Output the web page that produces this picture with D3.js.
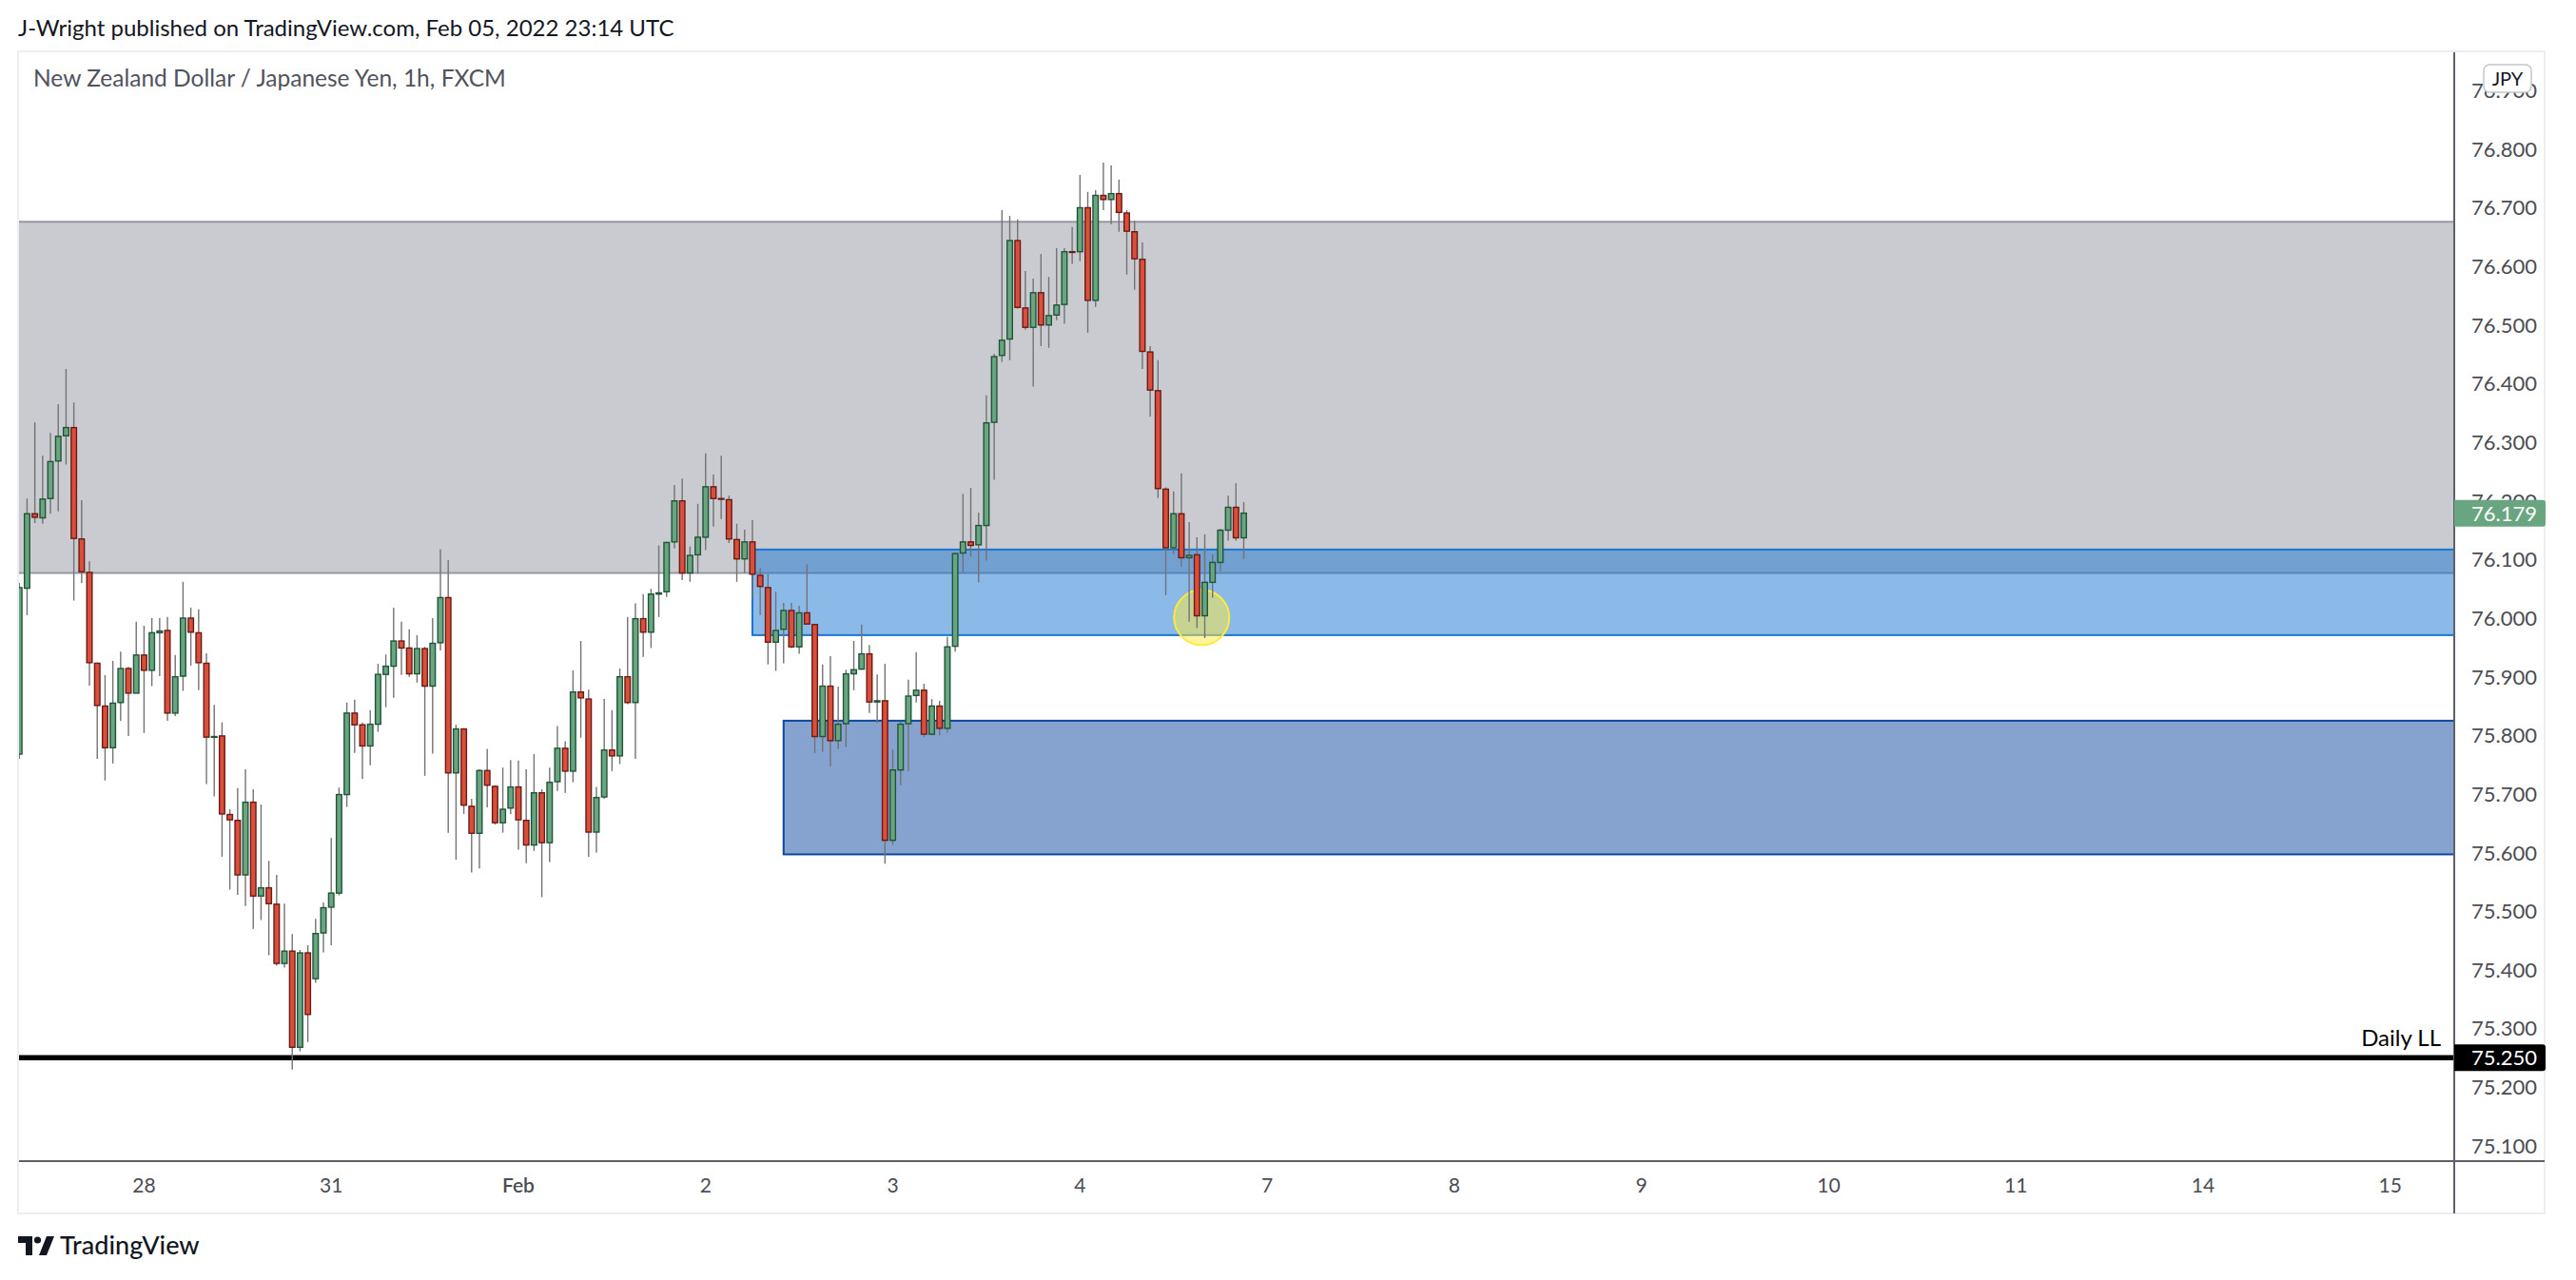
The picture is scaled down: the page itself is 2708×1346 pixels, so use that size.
<!DOCTYPE html>
<html>
<head>
<meta charset="utf-8">
<script src="https://cdn.jsdelivr.net/npm/d3@7"></script>
<style>
  body { margin: 0; background: #ffffff; }
  svg { display: block; }
</style>
</head>
<body>
<script>
// NZDJPY 1h candles, bar 0 = first (partly hidden) bar at the left edge
const opens = [
  75.768, 76.051, 76.178, 76.171, 76.204, 76.268, 76.311, 76.325, 76.135, 76.078,
  75.923, 75.850, 75.779, 75.856, 75.914, 75.872, 75.937, 75.911, 75.975, 75.979,
  75.838, 75.901, 76.000, 75.975, 75.923, 75.797, 75.799, 75.665, 75.655, 75.562,
  75.686, 75.526, 75.540, 75.512, 75.411, 75.432, 75.268, 75.429, 75.385, 75.463,
  75.507, 75.531, 75.699, 75.838, 75.818, 75.782, 75.819, 75.904, 75.918, 75.961,
  75.949, 75.905, 75.948, 75.884, 75.958, 76.035, 75.736, 75.811, 75.679, 75.633,
  75.740, 75.713, 75.651, 75.676, 75.712, 75.655, 75.613, 75.702, 75.617, 75.721,
  75.778, 75.739, 75.874, 75.862, 75.635, 75.695, 75.775, 75.765, 75.900, 75.856,
  75.999, 75.976, 76.041, 76.045, 76.130, 76.200, 76.077, 76.108, 76.138, 76.224,
  76.204, 76.202, 76.134, 76.101, 76.130, 76.073, 76.052, 75.959, 75.981, 76.013,
  75.951, 76.009, 75.989, 75.798, 75.884, 75.791, 75.820, 75.905, 75.913, 75.939,
  75.857, 75.859, 75.621, 75.741, 75.820, 75.868, 75.877, 75.802, 75.850, 75.812,
  75.952, 76.111, 76.130, 76.125, 76.158, 76.334, 76.448, 76.476, 76.644, 76.529,
  76.496, 76.555, 76.500, 76.517, 76.535, 76.625, 76.625, 76.700, 76.542, 76.721,
  76.714, 76.724, 76.691, 76.659, 76.612, 76.454, 76.388, 76.220, 76.120, 76.178,
  76.103, 76.108, 76.004, 76.061, 76.095, 76.150, 76.189, 76.137
]
const highs = [
  76.060, 76.204, 76.334, 76.277, 76.316, 76.365, 76.425, 76.368, 76.201, 76.097,
  75.924, 75.903, 75.927, 75.943, 75.917, 75.994, 75.987, 76.000, 76.000, 76.002,
  75.937, 76.062, 76.018, 76.015, 75.940, 75.852, 75.822, 75.674, 75.710, 75.742,
  75.708, 75.682, 75.586, 75.562, 75.513, 75.461, 75.434, 75.442, 75.487, 75.515,
  75.625, 75.711, 75.856, 75.861, 75.822, 75.843, 75.922, 75.938, 76.018, 75.994,
  75.981, 75.971, 75.951, 76.000, 76.117, 76.099, 75.818, 75.812, 75.692, 75.742,
  75.777, 75.715, 75.745, 75.758, 75.757, 75.742, 75.768, 75.708, 75.745, 75.816,
  75.790, 75.911, 75.961, 75.878, 75.712, 75.862, 75.843, 75.914, 76.002, 76.025,
  76.041, 76.050, 76.124, 76.130, 76.227, 76.238, 76.122, 76.195, 76.281, 76.245,
  76.277, 76.209, 76.161, 76.151, 76.167, 76.086, 76.075, 76.045, 76.026, 76.026,
  76.021, 76.092, 75.990, 75.921, 75.935, 75.883, 75.912, 75.961, 75.989, 75.954,
  75.904, 75.922, 75.776, 75.823, 75.895, 75.942, 75.888, 75.862, 75.859, 75.968,
  76.112, 76.212, 76.222, 76.180, 76.380, 76.451, 76.696, 76.686, 76.680, 76.592,
  76.579, 76.621, 76.582, 76.631, 76.631, 76.667, 76.756, 76.727, 76.730, 76.777,
  76.772, 76.748, 76.696, 76.678, 76.641, 76.464, 76.440, 76.223, 76.216, 76.247,
  76.164, 76.138, 76.143, 76.109, 76.152, 76.209, 76.230, 76.198
]
const lows = [
  75.760, 76.005, 76.162, 76.161, 76.178, 76.182, 76.262, 76.030, 76.060, 75.885,
  75.760, 75.723, 75.752, 75.825, 75.799, 75.872, 75.804, 75.884, 75.901, 75.825,
  75.833, 75.876, 75.919, 75.877, 75.717, 75.696, 75.593, 75.537, 75.528, 75.509,
  75.470, 75.485, 75.425, 75.407, 75.404, 75.230, 75.261, 75.277, 75.378, 75.430,
  75.442, 75.527, 75.678, 75.770, 75.726, 75.749, 75.806, 75.848, 75.864, 75.903,
  75.900, 75.890, 75.731, 75.769, 75.945, 75.634, 75.588, 75.666, 75.566, 75.573,
  75.677, 75.648, 75.634, 75.666, 75.605, 75.582, 75.603, 75.524, 75.584, 75.705,
  75.702, 75.720, 75.796, 75.593, 75.600, 75.692, 75.739, 75.751, 75.853, 75.760,
  75.934, 75.949, 76.002, 76.036, 76.119, 76.065, 76.062, 76.076, 76.116, 76.156,
  76.169, 76.128, 76.062, 76.077, 76.035, 76.005, 75.921, 75.910, 75.923, 75.949,
  75.939, 75.989, 75.770, 75.772, 75.747, 75.777, 75.780, 75.877, 75.912, 75.838,
  75.821, 75.581, 75.613, 75.715, 75.739, 75.856, 75.797, 75.800, 75.800, 75.805,
  75.943, 76.078, 76.105, 76.061, 76.098, 76.236, 76.437, 76.440, 76.528, 76.492,
  76.395, 76.464, 76.461, 76.508, 76.502, 76.604, 76.609, 76.487, 76.531, 76.696,
  76.672, 76.659, 76.586, 76.560, 76.425, 76.344, 76.205, 76.039, 76.109, 76.088,
  75.994, 75.983, 75.966, 76.035, 76.080, 76.132, 76.132, 76.101
]
const closes = [
  76.052, 76.178, 76.172, 76.203, 76.267, 76.310, 76.325, 76.136, 76.079, 75.924,
  75.851, 75.779, 75.855, 75.914, 75.872, 75.937, 75.911, 75.975, 75.978, 75.838,
  75.900, 76.000, 75.976, 75.924, 75.797, 75.798, 75.666, 75.656, 75.562, 75.686,
  75.526, 75.540, 75.513, 75.411, 75.432, 75.268, 75.429, 75.324, 75.462, 75.506,
  75.531, 75.699, 75.838, 75.818, 75.782, 75.819, 75.904, 75.918, 75.961, 75.949,
  75.905, 75.948, 75.884, 75.957, 76.035, 75.736, 75.811, 75.681, 75.633, 75.740,
  75.715, 75.651, 75.674, 75.712, 75.656, 75.613, 75.702, 75.617, 75.720, 75.778,
  75.739, 75.874, 75.864, 75.635, 75.694, 75.775, 75.765, 75.900, 75.856, 75.999,
  75.976, 76.041, 76.043, 76.129, 76.200, 76.077, 76.107, 76.138, 76.224, 76.204,
  76.203, 76.135, 76.101, 76.130, 76.075, 76.054, 75.959, 75.979, 76.013, 75.951,
  76.009, 75.990, 75.798, 75.884, 75.791, 75.819, 75.905, 75.912, 75.939, 75.857,
  75.859, 75.621, 75.741, 75.819, 75.867, 75.877, 75.802, 75.850, 75.812, 75.951,
  76.110, 76.130, 76.124, 76.158, 76.333, 76.446, 76.474, 76.644, 76.530, 76.496,
  76.555, 76.500, 76.516, 76.534, 76.625, 76.624, 76.700, 76.542, 76.721, 76.714,
  76.724, 76.692, 76.660, 76.613, 76.455, 76.389, 76.221, 76.120, 76.178, 76.103,
  76.107, 76.004, 76.061, 76.095, 76.150, 76.189, 76.137, 76.179
]

// time axis
const dayLabels = ["28", "31", "Feb", "2", "3", "4", "7", "8", "9", "10", "11", "14", "15"]
const dayBars = [16, 40, 64, 88, 112, 136, 160, 184, 208, 232, 256, 280, 304]

// price axis
const priceTicks = [75.1, 75.2, 75.3, 75.4, 75.5, 75.6, 75.7, 75.8, 75.9,
                    76.0, 76.1, 76.2, 76.3, 76.4, 76.5, 76.6, 76.7, 76.8, 76.9]
const lastPrice = 76.179

// drawings (price levels and the bar they start from, -1 = off the left edge)
const zoneTops = [76.676, 76.117, 75.825]
const zoneBottoms = [76.077, 75.971, 75.597]
const zoneStartBars = [-1, 94, 98]
const dailyLow = 75.250
const markBar = 151.6
const markPrice = 76.001

// ---- layout ----
const W = 2708, H = 1346
const plotLeft = 20, plotRight = 2580, plotTop = 55, plotBottom = 1221
const frameRight = 2675, frameBottom = 1276
const font = "'Trebuchet MS', Lato, 'Noto Sans', sans-serif"

const svg = d3.select("body").append("svg")
    .attr("width", W)
    .attr("height", H)
    .style("font-family", font)

const x = d3.scaleLinear().domain([-0.03, 312.2]).range([plotLeft, plotRight])
const y = d3.scaleLinear().domain([75.0738, 76.9651]).range([plotBottom, plotTop])

svg.append("defs").append("clipPath").attr("id", "plotClip")
    .append("rect")
    .attr("x", plotLeft).attr("y", plotTop)
    .attr("width", plotRight - plotLeft).attr("height", plotBottom - plotTop)

// header
svg.append("text")
    .attr("x", 19).attr("y", 38)
    .attr("font-size", 24)
    .attr("fill", "#131722")
    .text("J-Wright published on TradingView.com, Feb 05, 2022 23:14 UTC")

// chart frame
svg.append("rect")
    .attr("x", 19).attr("y", 54)
    .attr("width", frameRight - 19).attr("height", frameBottom - 54)
    .attr("fill", "#ffffff")
    .attr("stroke", "#eceef3")
    .attr("stroke-width", 2)

const plot = svg.append("g").attr("clip-path", "url(#plotClip)")

// zones
const zoneFill = ["rgba(149,152,161,0.5)", "rgba(25,118,210,0.5)", "rgba(13,71,161,0.5)"]
const zoneStroke = ["#9598a1", "#1976d2", "#0d47a1"]
plot.selectAll("rect.zone")
    .data(zoneTops)
    .enter()
    .append("rect")
    .attr("class", "zone")
    .attr("x", (d, i) => zoneStartBars[i] < 0 ? plotLeft - 5 : x(zoneStartBars[i]))
    .attr("y", d => y(d))
    .attr("width", (d, i) => plotRight + 5 - (zoneStartBars[i] < 0 ? plotLeft - 5 : x(zoneStartBars[i])))
    .attr("height", (d, i) => y(zoneBottoms[i]) - y(d))
    .attr("fill", (d, i) => zoneFill[i])
    .attr("stroke", (d, i) => zoneStroke[i])
    .attr("stroke-width", 2)

// daily low line
plot.append("line")
    .attr("x1", plotLeft).attr("x2", plotRight)
    .attr("y1", y(dailyLow)).attr("y2", y(dailyLow))
    .attr("stroke", "#000000")
    .attr("stroke-width", 5.5)

svg.append("text")
    .attr("x", 2566).attr("y", y(dailyLow) - 12)
    .attr("text-anchor", "end")
    .attr("font-size", 24)
    .attr("fill", "#000000")
    .text("Daily LL")

// yellow highlight
plot.append("circle")
    .attr("cx", x(markBar)).attr("cy", y(markPrice))
    .attr("r", 29)
    .attr("fill", "rgba(255,235,59,0.5)")
    .attr("stroke", "#ffeb3b")
    .attr("stroke-width", 2)

// candles
const candles = opens.map((o, i) => ({ i: i, o: o, h: highs[i], l: lows[i], c: closes[i] }))

plot.selectAll("line.wick")
    .data(candles)
    .enter()
    .append("line")
    .attr("class", "wick")
    .attr("x1", d => x(d.i)).attr("x2", d => x(d.i))
    .attr("y1", d => y(d.h)).attr("y2", d => y(d.l))
    .attr("stroke", "#737375")
    .attr("stroke-width", 1.4)

plot.selectAll("rect.body")
    .data(candles)
    .enter()
    .append("rect")
    .attr("class", "body")
    .attr("x", d => x(d.i) - 2.8)
    .attr("width", 5.6)
    .attr("y", d => y(Math.max(d.o, d.c)))
    .attr("height", d => Math.max(0.8, Math.abs(y(d.o) - y(d.c))))
    .attr("fill", d => d.c >= d.o ? "#68a580" : "#d8503c")
    .attr("stroke", d => d.c >= d.o ? "#1f5537" : "#6b1a14")
    .attr("stroke-width", 1.4)

// axes lines
svg.append("line")
    .attr("x1", plotLeft).attr("x2", frameRight)
    .attr("y1", plotBottom).attr("y2", plotBottom)
    .attr("stroke", "#5d606b").attr("stroke-width", 2)
svg.append("line")
    .attr("x1", plotRight).attr("x2", plotRight)
    .attr("y1", plotTop).attr("y2", frameBottom)
    .attr("stroke", "#5d606b").attr("stroke-width", 2)

// price labels
svg.selectAll("text.price")
    .data(priceTicks)
    .enter()
    .append("text")
    .attr("class", "price")
    .attr("x", 2598)
    .attr("y", d => y(d))
    .attr("dy", "0.36em")
    .attr("font-size", 22)
    .attr("fill", "#4a4d55")
    .text(d => d.toFixed(3))

// time labels
svg.selectAll("text.day")
    .data(dayLabels)
    .enter()
    .append("text")
    .attr("class", "day")
    .attr("x", (d, i) => x(dayBars[i]))
    .attr("y", 1246)
    .attr("dy", "0.36em")
    .attr("text-anchor", "middle")
    .attr("font-size", 21)
    .attr("font-weight", d => d === "Feb" ? 600 : 400)
    .attr("fill", "#4a4d55")
    .text(d => d)

// title inside the chart
svg.append("text")
    .attr("x", 35).attr("y", 91)
    .attr("font-size", 24.5)
    .attr("fill", "#50535e")
    .text("New Zealand Dollar / Japanese Yen, 1h, FXCM")

// currency button
svg.append("rect")
    .attr("x", 2611).attr("y", 68)
    .attr("width", 50).attr("height", 29)
    .attr("rx", 6)
    .attr("fill", "#ffffff")
    .attr("stroke", "#c3c6ce")
    .attr("stroke-width", 1.5)
svg.append("text")
    .attr("x", 2636).attr("y", 83)
    .attr("dy", "0.36em")
    .attr("text-anchor", "middle")
    .attr("font-size", 20)
    .attr("fill", "#131722")
    .text("JPY")

// price tags
function priceTag(value, fill) {
    const g = svg.append("g")
    g.append("path")
        .attr("d", "M" + plotRight + "," + (y(value) - 14) +
            " h93 a3,3 0 0 1 3,3 v22 a3,3 0 0 1 -3,3 h-93 z")
        .attr("fill", fill)
    g.append("text")
        .attr("x", 2598).attr("y", y(value))
        .attr("dy", "0.36em")
        .attr("font-size", 22)
        .attr("fill", "#ffffff")
        .text(value.toFixed(3))
}
priceTag(lastPrice, "#68a580")
priceTag(dailyLow, "#000000")

// footer logo
const logo = svg.append("g").attr("fill", "#131722")
logo.append("path").attr("d", "M19,1300 h15 v20 h-7 v-13 h-8 z")
logo.append("circle").attr("cx", 39.5).attr("cy", 1304).attr("r", 3.6)
logo.append("path").attr("d", "M49,1300 h8 l-8,20 h-8 z")
svg.append("text")
    .attr("x", 63).attr("y", 1319)
    .attr("font-size", 27)
    .attr("font-weight", 500)
    .attr("fill", "#131722")
    .text("TradingView")
</script>
</body>
</html>
